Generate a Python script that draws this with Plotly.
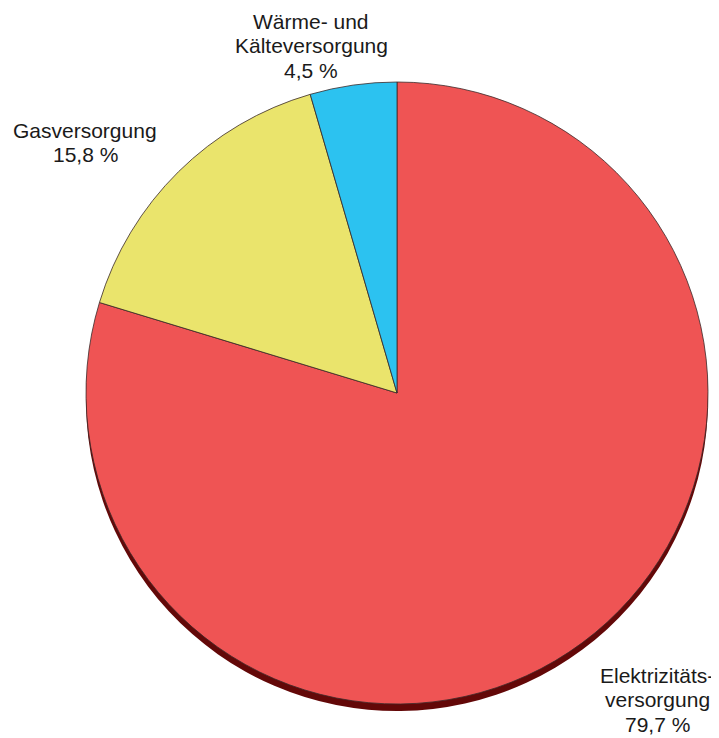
import plotly.graph_objects as go

W, H = 719, 738
OFF = 8  # page body margin shifts the figure by 8px

# data
LABELS = ["Elektrizitätsversorgung", "Gasversorgung", "Wärme- und Kälteversorgung"]
SHARES = [79.7, 15.8, 4.5]
COLORS = ["#EF5454", "#EAE46C", "#2CC2F0"]
LABEL_LINES = [["Elektrizitäts-", "versorgung", "79,7 %"],
               ["Gasversorgung", "15,8 %"],
               ["Wärme- und", "Kälteversorgung", "4,5 %"]]
LABEL_POS = [(657, 675), (85, 130), (311, 21.5)]  # centre x, first line y (page px)
LINE_STEP = 24.5

CX, CY, R = 397 - OFF, 393 - OFF, 311


def dom(cx, cy, r):
    return dict(x=[(cx - r) / W, (cx + r) / W],
                y=[(H - cy - r) / H, (H - cy + r) / H])


fig = go.Figure()

# dark rim under the pie
fig.add_trace(go.Pie(
    values=SHARES, labels=LABELS, sort=False, direction="clockwise", rotation=0,
    marker=dict(colors=["#630808"] * len(SHARES), line=dict(width=0)),
    textinfo="none", hoverinfo="skip", showlegend=False,
    domain=dom(CX, CY + 7, R),
))

fig.add_trace(go.Pie(
    values=SHARES, labels=LABELS, sort=False, direction="clockwise", rotation=0,
    marker=dict(colors=COLORS, line=dict(color="#3a2a2a", width=0.8)),
    textinfo="none", showlegend=False,
    hovertemplate="%{label}: %{value:.1f} %<extra></extra>",
    domain=dom(CX, CY, R),
))

for lines, (px, py) in zip(LABEL_LINES, LABEL_POS):
    for i, line in enumerate(lines):
        fig.add_annotation(
            x=(px - OFF) / W, y=1 - (py + i * LINE_STEP - OFF) / H,
            xref="paper", yref="paper",
            text=line, showarrow=False, xanchor="center", yanchor="middle",
            font=dict(family="Liberation Sans, Arial", size=21, color="#1a1a1a"),
        )

fig.update_layout(
    width=W, height=H, margin=dict(l=0, r=0, t=0, b=0),
    paper_bgcolor="white", plot_bgcolor="white",
)

fig.write_html("out.html")
